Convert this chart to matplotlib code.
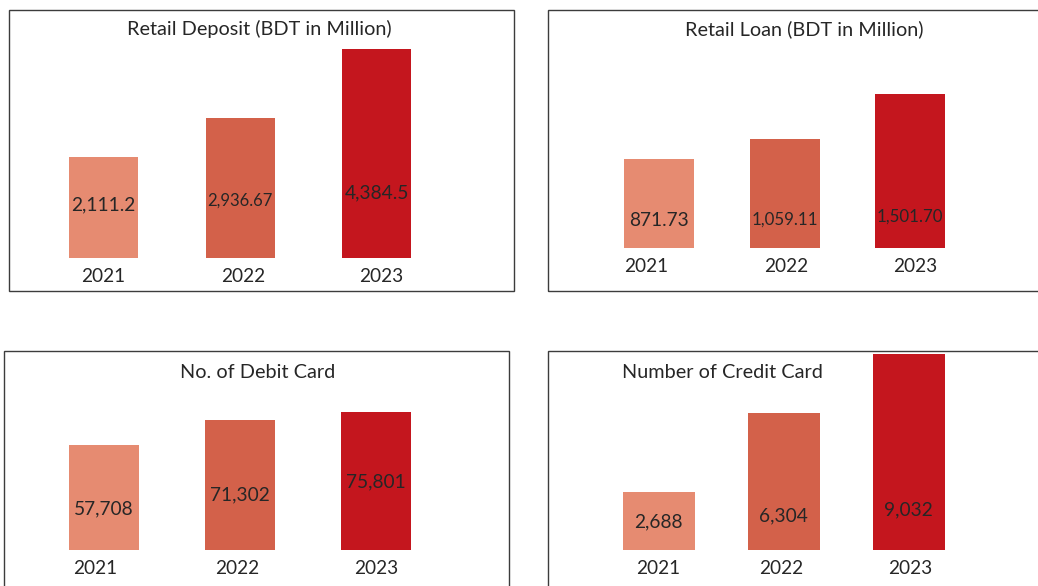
import matplotlib
matplotlib.use('Agg')
import matplotlib.pyplot as plt
from matplotlib.patches import Rectangle

plt.rcParams['font.family'] = ['Lato', 'DejaVu Sans']

# 數據
years = ['2021', '2022', '2023']
retail_deposit = [2111.2, 2936.67, 4384.5]
retail_loan = [871.73, 1059.11, 1501.70]
debit_cards = [57708, 71302, 75801]
credit_cards = [2688, 6304, 9032]

bar_colors = ['#E68B71', '#D3614A', '#C4161E']
text_color = '#262626'
W, H = 1038, 586
LABEL_SIZE = 13.8

fig = plt.figure(figsize=(W / 100, H / 100), dpi=100)
renderer = fig.canvas.get_renderer()


def px_rect(x0, y0, x1, y1):
    """像素座標 -> figure 比例 [left, bottom, width, height]"""
    return [x0 / W, 1 - y1 / H, (x1 - x0) / W, (y1 - y0) / H]


def draw_panel(values, title, fmt, border, c0, step, bw, base, top,
               title_pos, title_ha, year_dx, label_h, year_dy=-19):
    # 外框
    l, b, w, h = px_rect(*border)
    fig.add_artist(Rectangle((l, b), w, h, transform=fig.transFigure,
                             fill=False, ec='#3c3c3c', lw=1.0))
    fig.text(title_pos[0] / W, 1 - title_pos[1] / H, title, ha=title_ha,
             va='center', fontsize=14.3, color=text_color)

    ax = fig.add_axes(px_rect(c0 - step / 2, top, c0 + 2.5 * step, base))
    x = range(len(values))
    ax.bar(x, values, width=bw / step, color=bar_colors)
    ax.set_xlim(-0.5, 2.5)
    ax.set_ylim(0, max(values))
    ax.axis('off')

    for i, v in enumerate(values):
        ax.annotate(years[i], xy=(i, 0), xytext=(year_dx[i], year_dy),
                    textcoords='offset pixels', ha='center', va='center',
                    fontsize=13.7, color=text_color, annotation_clip=False)
        t = ax.annotate(fmt.format(v), xy=(i, 0), xytext=(0, label_h[i]),
                        textcoords='offset pixels', ha='center', va='center',
                        fontsize=LABEL_SIZE, color=text_color)
        # 標籤太寬時縮小字體以放入柱子
        tw = t.get_window_extent(renderer).width
        if tw > bw * 0.95:
            t.set_fontsize(LABEL_SIZE * bw * 0.95 / tw)


draw_panel(retail_deposit, 'Retail Deposit (BDT in Million)', '{:,}',
           (8.5, 10.5, 514, 291), 103.5, 136.5, 69, 258, 49,
           (259, 29), 'center', (0, 3, 4.5), (53, 57, 65))
draw_panel(retail_loan, 'Retail Loan (BDT in Million)', '{:,.2f}',
           (547.5, 10.5, 1045, 291), 659, 125.5, 70, 248, 94,
           (804, 29), 'center', (-13, 2, 5), (28, 28, 31), year_dy=-18)
draw_panel(debit_cards, 'No. of Debit Card', '{:,}',
           (3.5, 350.5, 509, 600), 104, 136, 70, 550, 412,
           (258, 373), 'center', (-9, -3, 0), (41, 55, 68))
draw_panel(credit_cards, 'Number of Credit Card', '{:,}',
           (547.5, 350.5, 1045, 600), 658.5, 125, 72, 550, 354,
           (722, 373), 'center', (0, -2.5, 1.5), (28, 34, 40))

fig.savefig('out.png', dpi=100, facecolor='white')
